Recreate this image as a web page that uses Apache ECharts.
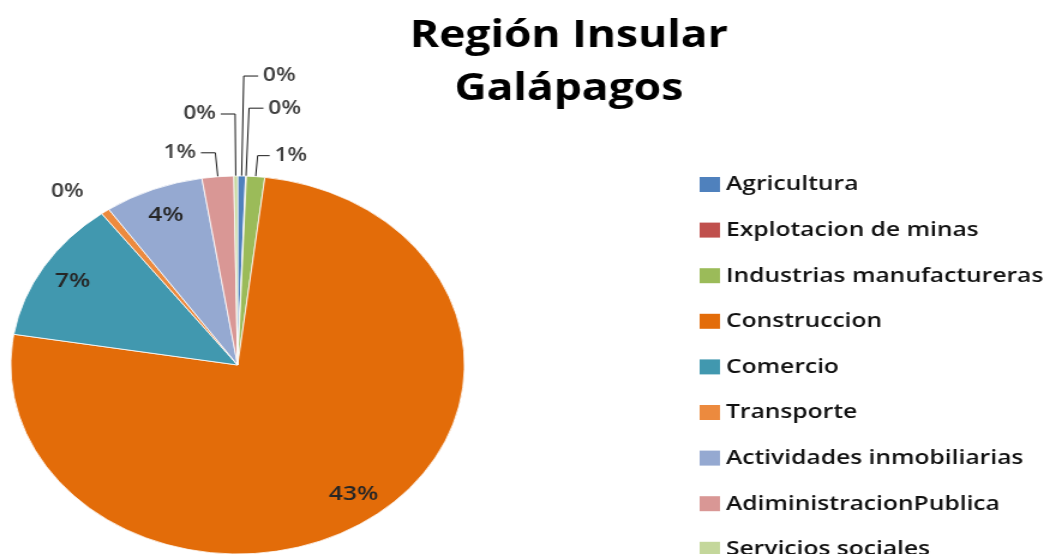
<!DOCTYPE html>
<html><head><meta charset="utf-8">
<script src="https://cdn.jsdelivr.net/npm/echarts@6/dist/echarts.min.js"></script>
<style>
html,body{margin:0;padding:0;background:#fff;overflow:hidden;width:1045px;height:554px}
#wrap{width:871px;height:554px;transform:scaleX(1.2);transform-origin:0 0}
</style>
</head><body><div id="wrap"></div>
<script>
// Data (share of national total, %)
const categories = ['Agricultura','Explotacion de minas','Industrias manufactureras','Construccion','Comercio','Transporte','Actividades inmobiliarias','AdiministracionPublica','Servicios sociales'];
const values = [0.32, 0.03, 0.74, 43.0, 6.92, 0.35, 4.03, 1.28, 0.15];
const titleLines = ['Región Insular', 'Galápagos'];

// Styles
const colors = ['#4F81BD','#C0504D','#9BBB59','#E36C09','#4198AF','#EC8A3E','#95A9D1','#D99795','#C4D79B'];
const insideLabel = {'Construccion':true,'Comercio':true,'Actividades inmobiliarias':true};
const lineLen = {'Agricultura':[100,12],'Explotacion de minas':[68,12],'Industrias manufactureras':[21,10],'Transporte':[24,0],'AdiministracionPublica':[24,12],'Servicios sociales':[62,12]};

const FONT = 'Open Sans';
const fmt = p => Math.round(p.value) + '%';

const mainData = categories.map((n, i) => {
  const item = {name: n, value: values[i], itemStyle: {color: colors[i]}};
  if (insideLabel[n]) {
    item.label = {show: false};
    item.labelLine = {show: false};
  } else {
    const l = lineLen[n];
    item.labelLine = {show: n !== 'Transporte', length: l[0], length2: l[1]};
  }
  return item;
});
const overlayData = categories.map((n, i) => ({
  name: n, value: values[i],
  itemStyle: {color: 'rgba(0,0,0,0)'},
  label: {show: !!insideLabel[n]}
}));

const chart = echarts.init(document.getElementById('wrap'));
chart.setOption({
  animation: false,
  backgroundColor: '#fff',
  title: {
    text: titleLines.join('\n'),
    left: 469, top: 5, textAlign: 'center',
    textStyle: {fontFamily: FONT, fontSize: 37, fontWeight: 'bold', color: '#000', lineHeight: 53}
  },
  legend: {
    orient: 'vertical', left: 583, top: 174, height: 480, padding: 0,
    itemWidth: 17, itemHeight: 15, itemGap: 24.6, icon: 'rect',
    itemStyle: {borderWidth: 0},
    data: categories,
    textStyle: {fontFamily: FONT, fontSize: 20.5, fontWeight: 600, color: '#111', lineHeight: 20}
  },
  series: [{
    type: 'pie', center: [198, 365], radius: [0, 189],
    startAngle: 90, clockwise: true, avoidLabelOverlap: false,
    minShowLabelAngle: 0, silent: true,
    itemStyle: {borderColor: '#fff', borderWidth: 0.8},
    label: {show: true, position: 'outside', formatter: fmt, fontFamily: FONT, fontSize: 19, fontWeight: 600, color: '#404040', distanceToLabelLine: 4},
    labelLine: {lineStyle: {color: '#1a1a1a', width: 1}},
    emphasis: {disabled: true},
    data: mainData
  }, {
    type: 'pie', center: [198, 365], radius: [124, 192],
    startAngle: 90, clockwise: true, avoidLabelOverlap: false,
    silent: true, z: 3,
    itemStyle: {borderWidth: 0},
    label: {position: 'inside', formatter: fmt, fontFamily: FONT, fontSize: 20.5, fontWeight: 600, color: '#262626'},
    labelLine: {show: false},
    emphasis: {disabled: true},
    data: overlayData
  }]
});
</script>
</body></html>
